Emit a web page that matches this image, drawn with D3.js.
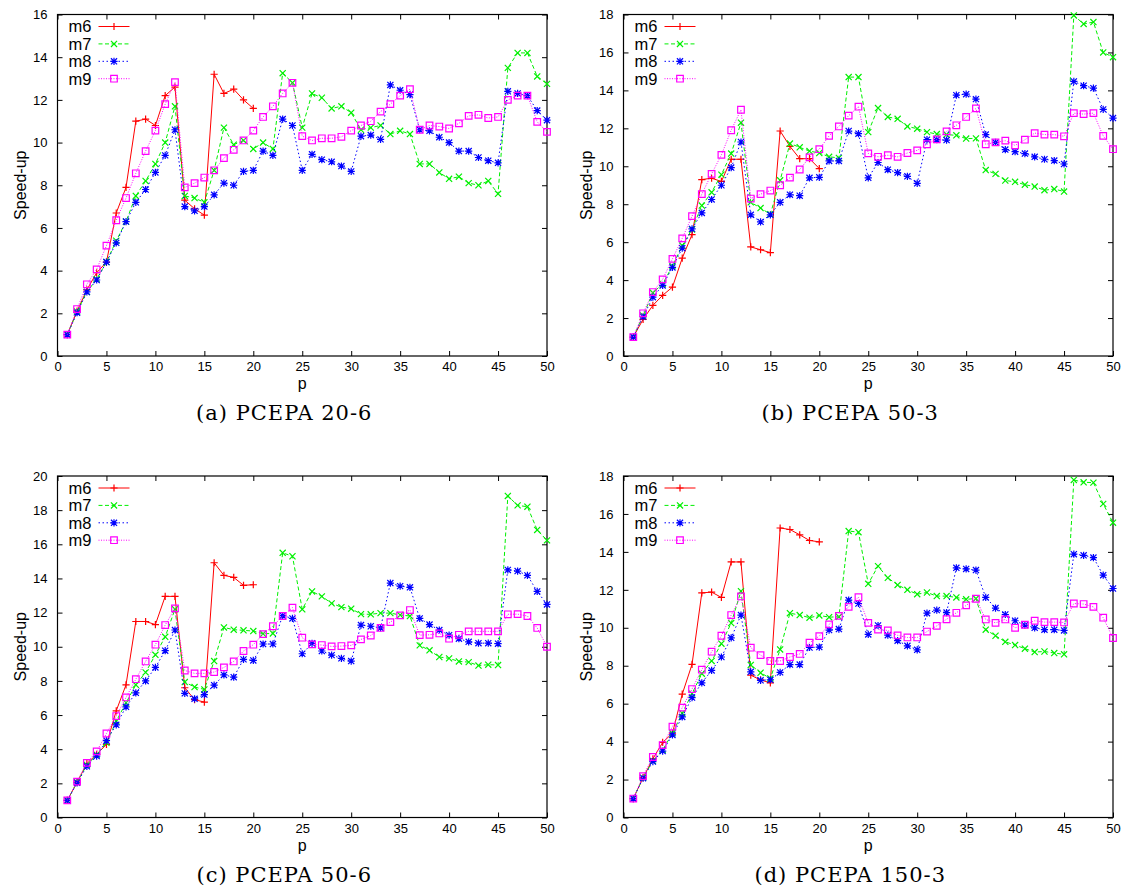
<!DOCTYPE html>
<html>
<head>
<meta charset="utf-8">
<script src="https://cdn.jsdelivr.net/npm/d3@7"></script>
<style>
  body { margin: 0; background: #fff; }
  svg { display: block; }
</style>
</head>
<body>
<svg id="chart" width="1128" height="896"></svg>
<script>
// x values: number of processors p
const procs = d3.range(1, 51)
const seriesNames = ['m6', 'm7', 'm8', 'm9']
const xTicks = [0, 5, 10, 15, 20, 25, 30, 35, 40, 45, 50]

// (a) PCEPA 20-6
const a_m6 = [1.0, 2.1, 3.1, 3.9, 4.4, 6.7, 7.9, 11.0, 11.1, 10.8, 12.2, 12.6, 7.3, 6.9, 6.6, 13.2, 12.3, 12.5, 12.0, 11.6]
const a_m7 = [1.0, 2.08, 3.0, 3.6, 4.4, 5.4, 6.3, 7.5, 8.2, 9.0,
  10.0, 11.7, 7.5, 7.4, 7.2, 8.7, 10.7, 9.9, 10.1, 9.7,
  10.0, 9.7, 13.25, 12.8, 10.7, 12.3, 12.1, 11.6, 11.7, 11.4,
  10.6, 10.7, 10.8, 10.4, 10.55, 10.4, 9.0, 9.0, 8.6, 8.3,
  8.4, 8.1, 8.0, 8.2, 7.6, 13.5, 14.2, 14.2, 13.1, 12.75]
const a_m8 = [1.0, 2.03, 3.0, 3.56, 4.4, 5.3, 6.3, 7.2, 7.8, 8.6,
  9.4, 10.6, 7.0, 6.8, 7.0, 7.55, 8.1, 8.0, 8.65, 8.7,
  9.6, 9.4, 11.1, 10.8, 8.7, 9.45, 9.2, 9.1, 8.9, 8.65,
  10.3, 10.35, 10.15, 12.7, 12.45, 12.25, 10.6, 10.55, 10.25, 10.0,
  9.6, 9.6, 9.3, 9.15, 9.05, 12.4, 12.3, 12.2, 11.5, 11.05]
const a_m9 = [1.0, 2.2, 3.36, 4.06, 5.17, 6.36, 7.4, 8.56, 9.6, 10.56,
  11.8, 12.83, 7.9, 8.1, 8.36, 8.7, 9.27, 9.66, 10.1, 10.56,
  11.2, 11.7, 12.3, 12.8, 10.3, 10.1, 10.2, 10.2, 10.27, 10.56,
  10.8, 11.0, 11.45, 11.8, 12.2, 12.5, 10.6, 10.8, 10.75, 10.66,
  10.9, 11.25, 11.3, 11.15, 11.2, 12.0, 12.2, 12.2, 10.97, 10.5]

// (b) PCEPA 50-3
const b_m6 = [1.0, 1.93, 2.67, 3.2, 3.63, 5.16, 6.4, 9.3, 9.37, 9.2, 10.37, 10.37, 5.75, 5.6, 5.45, 11.86, 11.05, 10.4, 10.4, 9.88]
const b_m7 = [1.0, 2.14, 3.33, 3.8, 4.74, 5.82, 6.67, 7.93, 8.63, 9.56,
  10.67, 12.3, 8.1, 7.8, 7.47, 9.26, 11.2, 11.0, 10.8, 10.7,
  10.5, 10.44, 14.7, 14.7, 11.8, 13.07, 12.6, 12.5, 12.1, 11.98,
  11.8, 11.7, 11.67, 11.63, 11.46, 11.47, 9.8, 9.6, 9.25, 9.18,
  9.03, 8.93, 8.74, 8.8, 8.67, 17.95, 17.5, 17.6, 16.0, 15.75]
const b_m8 = [1.0, 2.07, 3.1, 3.72, 4.67, 5.68, 6.7, 7.54, 8.25, 9.0,
  9.93, 11.28, 7.44, 7.07, 7.44, 8.1, 8.5, 8.45, 9.39, 9.42,
  10.28, 10.28, 11.86, 11.72, 9.39, 10.2, 9.82, 9.67, 9.47, 9.1,
  11.4, 11.4, 11.38, 13.75, 13.8, 13.54, 11.67, 11.26, 10.88, 10.77,
  10.67, 10.5, 10.37, 10.3, 10.12, 14.47, 14.25, 14.12, 13.0, 12.54]
const b_m9 = [1.0, 2.25, 3.37, 4.04, 5.12, 6.2, 7.37, 8.53, 9.6, 10.6,
  11.9, 12.98, 8.3, 8.53, 8.72, 9.0, 9.4, 9.83, 10.47, 10.9,
  11.6, 12.1, 12.67, 13.14, 10.68, 10.5, 10.58, 10.5, 10.7, 10.84,
  11.16, 11.42, 11.84, 12.16, 12.6, 13.05, 11.16, 11.26, 11.35, 11.1,
  11.4, 11.75, 11.67, 11.67, 11.58, 12.8, 12.75, 12.8, 11.6, 10.9]

// (c) PCEPA 50-6
const c_m6 = [1.0, 2.07, 3.16, 3.7, 4.28, 6.25, 7.77, 11.48, 11.48, 11.3, 12.95, 12.95, 7.6, 6.9, 6.76, 14.92, 14.18, 14.06, 13.6, 13.63]
const c_m7 = [1.0, 2.07, 3.08, 3.67, 4.37, 5.64, 6.72, 7.77, 8.5, 9.53,
  10.58, 12.2, 7.93, 7.64, 7.5, 9.16, 11.13, 11.0, 10.96, 10.92,
  10.76, 10.78, 15.5, 15.3, 12.19, 13.24, 12.95, 12.54, 12.32, 12.23,
  11.91, 11.9, 11.97, 11.97, 11.86, 11.8, 10.08, 9.79, 9.4, 9.32,
  9.14, 9.1, 8.9, 8.95, 8.93, 18.83, 18.28, 18.2, 16.84, 16.23]
const c_m8 = [1.0, 2.03, 3.0, 3.6, 4.5, 5.43, 6.48, 7.3, 8.0, 8.79,
  9.77, 10.98, 7.27, 6.95, 7.2, 7.75, 8.35, 8.22, 9.26, 9.2,
  10.16, 10.16, 11.82, 11.66, 9.59, 10.2, 9.75, 9.51, 9.32, 9.16,
  11.27, 11.2, 11.1, 13.73, 13.55, 13.48, 11.66, 11.3, 10.98, 10.68,
  10.47, 10.29, 10.21, 10.21, 10.18, 14.5, 14.43, 14.18, 13.24, 12.48]
const c_m9 = [1.0, 2.1, 3.2, 3.87, 4.92, 5.94, 7.03, 8.1, 9.14, 10.12,
  11.27, 12.25, 8.61, 8.44, 8.44, 8.52, 8.79, 9.14, 9.75, 10.12,
  10.74, 11.2, 11.8, 12.29, 10.53, 10.14, 10.1, 10.02, 10.04, 10.08,
  10.43, 10.66, 11.1, 11.44, 11.84, 12.15, 10.68, 10.7, 10.78, 10.47,
  10.7, 10.9, 10.9, 10.9, 10.9, 11.9, 11.91, 11.8, 11.1, 10.0]

// (d) PCEPA 150-3
const d_m6 = [1.0, 2.1, 3.09, 3.96, 4.44, 6.5, 8.07, 11.84, 11.88, 11.6, 13.47, 13.47, 7.5, 7.25, 7.1, 15.26, 15.18, 14.9, 14.6, 14.53]
const d_m7 = [1.0, 2.1, 2.98, 3.56, 4.44, 5.5, 6.53, 7.58, 8.25, 9.16,
  10.25, 11.93, 8.04, 7.63, 7.33, 8.86, 10.77, 10.67, 10.53, 10.65,
  10.56, 10.58, 15.1, 15.04, 12.32, 13.25, 12.63, 12.26, 12.0, 11.77,
  11.86, 11.67, 11.67, 11.6, 11.5, 11.54, 9.9, 9.58, 9.26, 9.09,
  8.9, 8.72, 8.75, 8.67, 8.6, 17.79, 17.67, 17.65, 16.53, 15.54]
const d_m8 = [1.0, 2.07, 2.95, 3.5, 4.35, 5.3, 6.32, 7.1, 7.75, 8.46,
  9.47, 10.67, 7.68, 7.23, 7.26, 7.65, 8.06, 8.06, 8.96, 8.98,
  9.88, 9.93, 11.46, 11.28, 9.65, 10.12, 9.61, 9.32, 9.05, 8.84,
  10.77, 10.93, 10.8, 13.16, 13.1, 13.04, 11.6, 11.04, 10.7, 10.37,
  10.14, 10.0, 9.9, 9.9, 9.86, 13.88, 13.82, 13.7, 12.77, 12.07]
const d_m9 = [1.0, 2.18, 3.19, 3.82, 4.79, 5.79, 6.77, 7.79, 8.74, 9.58,
  10.67, 11.65, 8.95, 8.56, 8.25, 8.25, 8.46, 8.62, 9.21, 9.56,
  10.18, 10.63, 11.1, 11.61, 10.26, 9.91, 9.86, 9.6, 9.49, 9.49,
  9.8, 10.1, 10.45, 10.79, 11.18, 11.53, 10.44, 10.26, 10.44, 10.0,
  10.16, 10.37, 10.3, 10.3, 10.28, 11.28, 11.25, 11.1, 10.53, 9.46]

const panels = [
  { caption: '(a) PCEPA 20-6', yMax: 16, left: 57.5, top: 14.5, series: [a_m6, a_m7, a_m8, a_m9] },
  { caption: '(b) PCEPA 50-3', yMax: 18, left: 623.5, top: 14.5, series: [b_m6, b_m7, b_m8, b_m9] },
  { caption: '(c) PCEPA 50-6', yMax: 20, left: 57.5, top: 476, series: [c_m6, c_m7, c_m8, c_m9] },
  { caption: '(d) PCEPA 150-3', yMax: 18, left: 623.5, top: 476, series: [d_m6, d_m7, d_m8, d_m9] },
]

// gnuplot-like line types
const styles = {
  m6: { color: '#ff0000', dash: null, marker: 'plus' },
  m7: { color: '#00f000', dash: '4,2.5', marker: 'cross' },
  m8: { color: '#0000ff', dash: '1.5,2.5', marker: 'star' },
  m9: { color: '#ff00ff', dash: '1,1.5', marker: 'square' },
}

const plotW = 489.5
const plotH = 341.5
const sansFont = '"Liberation Sans", Arial, sans-serif'
const svg = d3.select('#chart')

function markerPath(type, s = 3.6) {
  const plus = `M${-s},0H${s}M0,${-s}V${s}`
  const c = s * 0.85
  const cross = `M${-c},${-c}L${c},${c}M${-c},${c}L${c},${-c}`
  if (type === 'plus') return plus
  if (type === 'cross') return cross
  if (type === 'star') return plus + cross
  return `M-3.3,-3.3H3.3V3.3H-3.3Z`
}

function drawPanel(panel) {
  const g = svg.append('g').attr('transform', `translate(${panel.left},${panel.top})`)

  const x = d3.scaleLinear().domain([0, 50]).range([0, plotW])
  const y = d3.scaleLinear().domain([0, panel.yMax]).range([plotH, 0])
  const yTicks = d3.range(0, panel.yMax + 1, 2)

  // inward ticks on all four sides (mirror)
  const tl = 5
  g.append('g').attr('transform', `translate(0,${plotH})`)
    .call(d3.axisBottom(x).tickValues(xTicks).tickSize(-tl).tickPadding(6).tickFormat(d3.format('d')))
  g.append('g')
    .call(d3.axisTop(x).tickValues(xTicks).tickSize(-tl).tickFormat(''))
  g.append('g')
    .call(d3.axisLeft(y).tickValues(yTicks).tickSize(-tl).tickPadding(tl + 5).tickFormat(d3.format('d')))
  g.append('g').attr('transform', `translate(${plotW},0)`)
    .call(d3.axisRight(y).tickValues(yTicks).tickSize(-tl).tickFormat(''))

  g.selectAll('.domain').remove()
  g.selectAll('.tick line').attr('stroke', '#000').attr('stroke-width', 1)
  g.selectAll('.tick text').attr('font-family', sansFont).attr('font-size', 13).attr('fill', '#000')

  g.append('rect')
    .attr('width', plotW).attr('height', plotH)
    .attr('fill', 'none').attr('stroke', '#000').attr('stroke-width', 1.2)

  // axis labels
  g.append('text')
    .attr('x', plotW / 2).attr('y', plotH + 33)
    .attr('text-anchor', 'middle')
    .attr('font-family', sansFont).attr('font-size', 16)
    .text('p')
  g.append('text')
    .attr('transform', `translate(${-32},${plotH / 2}) rotate(-90)`)
    .attr('text-anchor', 'middle')
    .attr('font-family', sansFont).attr('font-size', 16)
    .text('Speed-up')

  const line = d3.line().x((d, i) => x(procs[i])).y(d => y(d))

  seriesNames.forEach((name, k) => {
    const st = styles[name]
    const values = panel.series[k]
    g.append('path')
      .datum(values)
      .attr('d', line)
      .attr('fill', 'none')
      .attr('stroke', st.color)
      .attr('stroke-width', 1)
      .attr('stroke-dasharray', st.dash)
    g.selectAll(`.pt-${name}`)
      .data(values)
      .join('path')
      .attr('class', `pt-${name}`)
      .attr('transform', (d, i) => `translate(${x(procs[i])},${y(d)})`)
      .attr('d', markerPath(st.marker))
      .attr('fill', 'none')
      .attr('stroke', st.color)
      .attr('stroke-width', 1.2)
  })

  // legend, top left inside the plot
  const lg = g.append('g').attr('transform', 'translate(11,12)')
  seriesNames.forEach((name, k) => {
    const st = styles[name]
    const row = lg.append('g').attr('transform', `translate(0,${k * 17.4})`)
    row.append('text')
      .attr('y', 5.8)
      .attr('font-family', sansFont).attr('font-size', 16.5)
      .text(name)
    row.append('line')
      .attr('x1', 30).attr('x2', 61)
      .attr('stroke', st.color).attr('stroke-width', 1)
      .attr('stroke-dasharray', st.dash)
    row.append('path')
      .attr('transform', 'translate(45.5,0)')
      .attr('d', markerPath(st.marker))
      .attr('fill', 'none').attr('stroke', st.color).attr('stroke-width', 1.2)
  })

  // caption under the panel
  svg.append('text')
    .attr('x', panel.left + plotW / 2 - 18).attr('y', panel.top + plotH + 64)
    .attr('text-anchor', 'middle')
    .attr('font-family', '"DejaVu Serif", serif').attr('font-size', 21)
    .attr('letter-spacing', 1)
    .text(panel.caption)
}

panels.forEach(drawPanel)
</script>
</body>
</html>
